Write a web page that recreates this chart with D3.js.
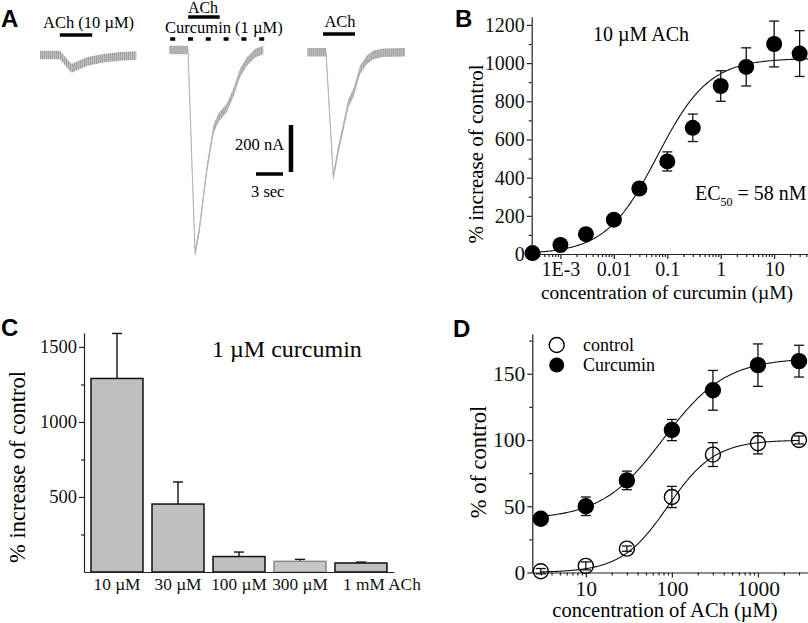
<!DOCTYPE html>
<html>
<head>
<meta charset="utf-8">
<script src="https://cdn.jsdelivr.net/npm/d3@7"></script>
<style>
  body { margin: 0; background: #fff; }
  svg { display: block; }
  svg text { font-family: "Liberation Serif", "Times New Roman", serif; }
  svg text.letter { font-family: "Liberation Sans", Arial, sans-serif; font-weight: bold; font-size: 24px; }
  .axis path, .axis line { stroke: #222; stroke-width: 1.2; }
  .axis text { fill: #111; }
</style>
</head>
<body>
<script>
// ---------- panel A: current traces (time in s, current in nA) ----------
const trace1Time = [0, 2.2, 3.5, 5.2, 7.0, 8.9, 10.7];
const trace1Current = [0, 0, -57, -28, -14, -6, -2];
const trace2Time = [0, 1.93, 2.08, 2.86, 3.33, 4.16, 4.89, 5.44, 6.38, 7.11, 7.86, 8.6, 9.52, 10.44];
const trace2Current = [0, 0, 0, -865, -766, -511, -340, -289, -247, -183, -98, -50, -14, 0];
const trace3Time = [0, 2.08, 2.89, 3.44, 4.0, 4.56, 5.11, 5.86, 6.6, 7.33, 8.44, 10.86];
const trace3Current = [0, 0, -529, -416, -317, -217, -174, -75, -33, -11, -2, 0];
const achOn = [2.2, 2.1, 1.75];
const achOff = [5.8, 5.6, 5.3];
const curcuminOn = 0.1, curcuminOff = 10.6;
const scaleCurrent = 200, scaleTime = 3;

// ---------- panel B: curcumin dose response ----------
const bConc = [3e-4, 1e-3, 3e-3, 0.01, 0.03, 0.1, 0.3, 1, 3, 10, 30];
const bResp = [5, 47, 104, 180, 343, 485, 661, 880, 980, 1100, 1050];
const bErr = [0, 0, 0, 0, 0, 50, 72, 80, 100, 120, 120];
const bFit = {bottom: 0, top: 1025, ec50: 0.065, n: 0.9};
const bTicks = [1e-3, 0.01, 0.1, 1, 10];
const bTickLabels = ["1E-3", "0.01", "0.1", "1", "10"];

// ---------- panel C: ACh concentrations with 1 uM curcumin ----------
const cLabels = ["10 \u00b5M", "30 \u00b5M", "100 \u00b5M", "300 \u00b5M", "1 mM ACh"];
const cValues = [1290, 453, 103, 71, 60];
const cErr = [300, 147, 30, 13, 6];

// ---------- panel D: ACh dose response ----------
const dConc = [3, 10, 30, 100, 300, 1000, 3000];
const dControl = [1, 5, 18, 57, 89, 97.5, 100];
const dControlErr = [2, 3, 2, 8, 9, 8, 3];
const dCurcumin = [40.6, 50, 69.5, 107.5, 137.5, 156.5, 159.5];
const dCurcuminErr = [2, 7, 7, 8, 15, 16, 12];
const dFitControl = {bottom: 0, top: 100, ec50: 90, n: 1.6};
const dFitCurcumin = {bottom: 40, top: 162, ec50: 80, n: 1.2};

const W = 808, H = 623;
const SERIF = '"Liberation Serif", "Times New Roman", serif';
const svg = d3.select("body").append("svg")
  .attr("width", W).attr("height", H)
  .attr("viewBox", [0, 0, W, H]);

const hill = (p, x) => p.bottom + (p.top - p.bottom) / (1 + Math.pow(p.ec50 / x, p.n));
// d3 axes put their own font on the group; put ours back
const serifAxis = size => g => g.attr("font-family", SERIF).attr("font-size", size);

// stripes for the noisy recording band
const defs = svg.append("defs");
const pat = defs.append("pattern").attr("id", "stripes")
  .attr("patternUnits", "userSpaceOnUse").attr("width", 2).attr("height", 4);
pat.append("rect").attr("width", 2).attr("height", 4).attr("fill", "#c4c4c4");
pat.append("rect").attr("width", 1).attr("height", 4).attr("fill", "#9c9c9c");

// =============== A ===============
const gA = svg.append("g");
gA.append("text").attr("class", "letter").attr("x", 1).attr("y", 27).text("A");

const t = d3.scaleLinear().domain([0, 1]).range([0, 9]);       // 9 px per second
const cur = d3.scaleLinear().domain([0, -200]).range([0, 47]);  // 47 px per 200 nA

const traces = [
  {time: trace1Time, current: trace1Current, x0: 40, y0: 55},
  {time: trace2Time, current: trace2Current, x0: 169.3, y0: 50},
  {time: trace3Time, current: trace3Current, x0: 307.3, y0: 52.3}
];

traces.forEach((tr, k) => {
  const pts = tr.time.map((d, i) => [d, tr.current[i]]);
  const g = gA.append("g").attr("transform", `translate(${tr.x0},${tr.y0})`);
  g.append("path")
    .datum(pts)
    .attr("fill", "url(#stripes)")
    .attr("d", d3.area().x(d => t(d[0])).y0(d => cur(d[1]) - 4.3).y1(d => cur(d[1]) + 4.3));
  g.append("path")
    .datum(pts)
    .attr("fill", "none").attr("stroke", "#b4b4b4").attr("stroke-width", 1.1)
    .attr("d", d3.line().x(d => t(d[0])).y(d => cur(d[1])));
  // ACh application bar
  const barY = [35, 17, 34][k] - tr.y0;
  g.append("line")
    .attr("x1", t(achOn[k])).attr("x2", t(achOff[k]))
    .attr("y1", barY).attr("y2", barY)
    .attr("stroke", "#000").attr("stroke-width", 3.5);
  if (k === 1) {
    g.append("line")
      .attr("x1", t(curcuminOn)).attr("x2", t(curcuminOff))
      .attr("y1", 39 - tr.y0).attr("y2", 39 - tr.y0)
      .attr("stroke", "#000").attr("stroke-width", 3.5)
      .attr("stroke-dasharray", "5,12.8");
  }
});

gA.append("text").attr("x", 43).attr("y", 28).attr("font-size", 16.5).text("ACh (10 \u00b5M)");
gA.append("text").attr("x", 203).attr("y", 13).attr("font-size", 16).attr("text-anchor", "middle").text("ACh");
gA.append("text").attr("x", 165).attr("y", 33).attr("font-size", 16.5).text("Curcumin (1 \u00b5M)");
gA.append("text").attr("x", 340).attr("y", 27).attr("font-size", 16.5).attr("text-anchor", "middle").text("ACh");

// scale bars
gA.append("line").attr("x1", 291).attr("x2", 291)
  .attr("y1", 172).attr("y2", 172 - cur(-scaleCurrent))
  .attr("stroke", "#000").attr("stroke-width", 4.5);
gA.append("line").attr("x1", 256).attr("x2", 256 + t(scaleTime))
  .attr("y1", 174).attr("y2", 174)
  .attr("stroke", "#000").attr("stroke-width", 3.5);
gA.append("text").attr("x", 235).attr("y", 150).attr("font-size", 16.5).text("200 nA");
gA.append("text").attr("x", 251).attr("y", 197).attr("font-size", 16.5).text("3 sec");

// helper: log minor ticks between decades
const minorLog = (lo, hi) => {
  const out = [];
  for (let e = Math.floor(Math.log10(lo)); e <= Math.ceil(Math.log10(hi)); e++) {
    for (let m = 2; m <= 9; m++) {
      const v = m * Math.pow(10, e);
      if (v > lo && v < hi) out.push(v);
    }
  }
  return out;
};

// =============== B ===============
const gB = svg.append("g");
gB.append("text").attr("class", "letter").attr("x", 455).attr("y", 27).text("B");

const xB = d3.scaleLog().domain([2.9e-4, 43]).range([531.7, 808]);
const yB = d3.scaleLinear().domain([0, 1243]).range([254, 16.7]);

gB.append("g").attr("class", "axis").attr("transform", "translate(0,254)")
  .call(d3.axisBottom(xB).tickValues(minorLog(2.9e-4, 43)).tickSize(3).tickFormat("").tickSizeOuter(0))
  .call(g => g.select(".domain").remove());
gB.append("g").attr("class", "axis").attr("transform", "translate(0,254)")
  .call(d3.axisBottom(xB).tickValues(bTicks).tickSize(5).tickSizeOuter(0)
    .tickFormat((d, i) => bTickLabels[i]))
  .call(serifAxis(20));
gB.append("g").attr("class", "axis").attr("transform", "translate(531.7,0)")
  .call(d3.axisLeft(yB).tickValues(d3.range(100, 1243, 200)).tickSize(3).tickFormat(""))
  .call(g => g.select(".domain").remove());
gB.append("g").attr("class", "axis").attr("transform", "translate(531.7,0)")
  .call(d3.axisLeft(yB).tickValues(d3.range(0, 1201, 200)).tickSize(5).tickSizeOuter(0)
    .tickPadding(2).tickFormat(d3.format("d")))
  .call(serifAxis(20));

const fitB = d3.range(0, 201).map(i => {
  const x = Math.pow(10, Math.log10(2.9e-4) + i / 200 * Math.log10(43 / 2.9e-4));
  return [x, hill(bFit, x)];
});
gB.append("path").datum(fitB)
  .attr("fill", "none").attr("stroke", "#111").attr("stroke-width", 1.1)
  .attr("d", d3.line().x(d => xB(d[0])).y(d => yB(d[1])));

const bPts = bConc.map((c, i) => ({c, v: bResp[i], e: bErr[i]}));
const errB = gB.append("g").attr("stroke", "#111").attr("stroke-width", 1.3);
bPts.filter(d => d.e > 0).forEach(d => {
  errB.append("line").attr("x1", xB(d.c)).attr("x2", xB(d.c)).attr("y1", yB(d.v - d.e)).attr("y2", yB(d.v + d.e));
  errB.append("line").attr("x1", xB(d.c) - 5).attr("x2", xB(d.c) + 5).attr("y1", yB(d.v - d.e)).attr("y2", yB(d.v - d.e));
  errB.append("line").attr("x1", xB(d.c) - 5).attr("x2", xB(d.c) + 5).attr("y1", yB(d.v + d.e)).attr("y2", yB(d.v + d.e));
});
gB.append("g").selectAll("circle").data(bPts).join("circle")
  .attr("cx", d => xB(d.c)).attr("cy", d => yB(d.v)).attr("r", 8).attr("fill", "#000");

gB.append("text").attr("x", 593).attr("y", 41).attr("font-size", 20).text("10 \u00b5M ACh");
const ec = gB.append("text").attr("x", 695).attr("y", 200).attr("font-size", 20);
ec.append("tspan").text("EC");
ec.append("tspan").attr("font-size", 12).attr("dy", 6).text("50");
ec.append("tspan").attr("dy", -6).text(" = 58 nM");

gB.append("text").attr("transform", "translate(483,154) rotate(-90)")
  .attr("text-anchor", "middle").attr("font-size", 21).text("% increase of control");
gB.append("text").attr("x", 667).attr("y", 299)
  .attr("text-anchor", "middle").attr("font-size", 19.5).text("concentration of curcumin (\u00b5M)");

// =============== C ===============
const gC = svg.append("g");
gC.append("text").attr("class", "letter").attr("x", 1).attr("y", 336).text("C");

const xC = d3.scaleBand().domain(cLabels).range([84, 394]).paddingInner(0.148).paddingOuter(0.115);
const yC = d3.scaleLinear().domain([0, 1593]).range([572, 333]);

gC.append("g").attr("class", "axis").attr("transform", "translate(84,0)")
  .call(d3.axisLeft(yC).tickValues([250, 750, 1250]).tickSize(3).tickFormat(""))
  .call(g => g.select(".domain").remove());
gC.append("g").attr("class", "axis").attr("transform", "translate(84,0)")
  .call(d3.axisLeft(yC).tickValues([500, 1000, 1500]).tickSize(5).tickSizeOuter(0)
    .tickPadding(2).tickFormat(d3.format("d")))
  .call(serifAxis(18.5));

const cData = cLabels.map((l, i) => ({l, v: cValues[i], e: cErr[i], i}));
const errC = gC.append("g").attr("stroke", "#111").attr("stroke-width", 1.4);
cData.forEach(d => {
  const cx = xC(d.l) + xC.bandwidth() / 2;
  errC.append("line").attr("x1", cx).attr("x2", cx).attr("y1", yC(d.v)).attr("y2", yC(d.v + d.e));
  errC.append("line").attr("x1", cx - 5).attr("x2", cx + 5).attr("y1", yC(d.v + d.e)).attr("y2", yC(d.v + d.e));
});
gC.append("g").selectAll("rect").data(cData).join("rect")
  .attr("x", d => xC(d.l)).attr("y", d => yC(d.v))
  .attr("width", xC.bandwidth()).attr("height", d => yC(0) - yC(d.v))
  .attr("fill", d => d.i === 3 ? "#c6c6c6" : "#bfbfbf")
  .attr("stroke", d => d.i === 3 ? "#8a8a8a" : "#111").attr("stroke-width", 1.5);

gC.append("g").attr("class", "axis").attr("transform", "translate(0,572)")
  .call(d3.axisBottom(xC).tickSize(0).tickPadding(6).tickSizeOuter(0))
  .call(serifAxis(17.3))
  .call(g => g.selectAll(".tick text").filter(d => d === "1 mM ACh")
    .attr("text-anchor", "start").attr("x", -18));

gC.append("text").attr("x", 212).attr("y", 357).attr("font-size", 24).text("1 \u00b5M curcumin");
gC.append("text").attr("transform", "translate(25,467) rotate(-90)")
  .attr("text-anchor", "middle").attr("font-size", 22.5).text("% increase of control");

// =============== D ===============
const gD = svg.append("g");
gD.append("text").attr("class", "letter").attr("x", 453).attr("y", 337).text("D");

const xD = d3.scaleLog().domain([2.39, 3817]).range([532.3, 808]);
const yD = d3.scaleLinear().domain([0, 180]).range([572.5, 334]);

gD.append("g").attr("class", "axis").attr("transform", "translate(0,572.5)")
  .call(d3.axisBottom(xD).tickValues(minorLog(2.39, 3817)).tickSize(3).tickFormat("").tickSizeOuter(0))
  .call(g => g.select(".domain").remove());
gD.append("g").attr("class", "axis").attr("transform", "translate(0,572.5)")
  .call(d3.axisBottom(xD).tickValues([10, 100, 1000]).tickSize(5).tickSizeOuter(0).tickFormat(d3.format("d")))
  .call(serifAxis(21.5));
gD.append("g").attr("class", "axis").attr("transform", "translate(532.3,0)")
  .call(d3.axisLeft(yD).tickValues([25, 75, 125, 175]).tickSize(3).tickFormat(""))
  .call(g => g.select(".domain").remove());
gD.append("g").attr("class", "axis").attr("transform", "translate(532.3,0)")
  .call(d3.axisLeft(yD).tickValues([0, 50, 100, 150]).tickSize(5).tickSizeOuter(0)
    .tickPadding(2).tickFormat(d3.format("d")))
  .call(serifAxis(21.5));

const fitLine = d3.line().x(d => xD(d[0])).y(d => yD(d[1]));
[dFitControl, dFitCurcumin].forEach(p => {
  const pts = d3.range(0, 201).map(i => {
    const x = Math.pow(10, Math.log10(3) + i / 200 * Math.log10(1000));
    return [x, hill(p, x)];
  });
  gD.append("path").datum(pts)
    .attr("fill", "none").attr("stroke", "#111").attr("stroke-width", 1.1).attr("d", fitLine);
});

const series = [
  {v: dCurcumin, e: dCurcuminErr, fill: "#000"},
  {v: dControl, e: dControlErr, fill: "none"}
];
series.forEach(s => {
  const pts = dConc.map((c, i) => ({c, v: s.v[i], e: s.e[i]}));
  const eg = gD.append("g").attr("stroke", "#111").attr("stroke-width", 1.3);
  pts.forEach(d => {
    eg.append("line").attr("x1", xD(d.c)).attr("x2", xD(d.c)).attr("y1", yD(d.v - d.e)).attr("y2", yD(d.v + d.e));
    eg.append("line").attr("x1", xD(d.c) - 5).attr("x2", xD(d.c) + 5).attr("y1", yD(d.v - d.e)).attr("y2", yD(d.v - d.e));
    eg.append("line").attr("x1", xD(d.c) - 5).attr("x2", xD(d.c) + 5).attr("y1", yD(d.v + d.e)).attr("y2", yD(d.v + d.e));
  });
  gD.append("g").selectAll("circle").data(pts).join("circle")
    .attr("cx", d => xD(d.c)).attr("cy", d => yD(d.v)).attr("r", 7.5)
    .attr("fill", s.fill).attr("stroke", "#000").attr("stroke-width", 1.4);
});

// legend
gD.append("circle").attr("cx", 556.7).attr("cy", 345).attr("r", 7.5)
  .attr("fill", "none").attr("stroke", "#000").attr("stroke-width", 1.4);
gD.append("circle").attr("cx", 556.7).attr("cy", 365).attr("r", 7.5).attr("fill", "#000");
gD.append("text").attr("x", 583).attr("y", 351).attr("font-size", 18).text("control");
gD.append("text").attr("x", 583).attr("y", 371).attr("font-size", 18).text("Curcumin");

gD.append("text").attr("transform", "translate(486,462) rotate(-90)")
  .attr("text-anchor", "middle").attr("font-size", 22.5).text("% of control");
gD.append("text").attr("x", 665).attr("y", 617)
  .attr("text-anchor", "middle").attr("font-size", 20.5).text("concentration of ACh (\u00b5M)");
</script>
</body>
</html>
